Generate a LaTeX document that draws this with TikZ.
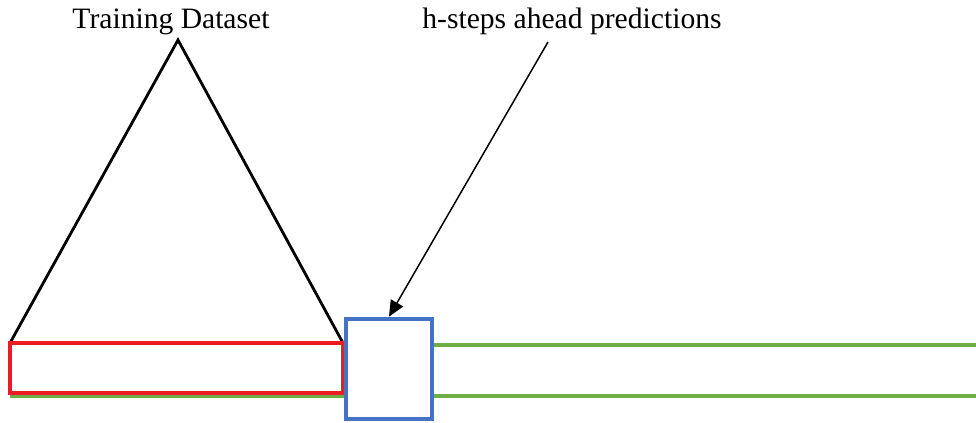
\documentclass[tikz,border=0pt]{standalone}
\usepackage{fontspec}
\setmainfont{Liberation Serif}
\usetikzlibrary{arrows.meta}
\definecolor{cred}{RGB}{237,28,36}
\definecolor{cblue}{RGB}{68,114,196}
\definecolor{cgreen}{RGB}{112,173,71}
\begin{document}
\begin{tikzpicture}[x=0.5pt,y=-0.5pt,
  lbl/.style={font=\fontsize{14.8pt}{17pt}\selectfont, inner sep=0pt, anchor=base},
  tri/.style={draw=black, line width=1.4pt, line join=miter},
  greenline/.style={draw=cgreen, line width=1.6pt},
  trainbox/.style={draw=cred, line width=1.7pt},
  predbox/.style={draw=cblue, line width=2.3pt, fill=white},
  pointer/.style={draw=black, line width=0.75pt, -{Triangle[length=8pt,width=7pt]}}]
\useasboundingbox (0,0) rectangle (976,423);
% green series lines
\coordinate (gtl) at (10,345);
\coordinate (gtr) at (976,345);
\coordinate (gbl) at (10,396);
\coordinate (gbr) at (976,396);
\draw[greenline] (gtl) -- (gtr);
\draw[greenline] (gbl) -- (gbr);
% triangle
\coordinate (apex) at (178,40);
\coordinate (bl) at (10,343);
\coordinate (br) at (343,343);
\draw[tri] (bl) -- (apex) -- (br);
% training box
\draw[trainbox, fill=white] (10,343) rectangle (343,393);
% prediction box
\node[predbox, minimum width=43pt, minimum height=50pt, inner sep=0pt] (box) at (389,369) {};
% labels
\node[lbl] (train) at (171,28) {Training Dataset};
\node[lbl] (pred) at (572,28) {h-steps ahead predictions};
\coordinate (astart) at (548,42);
\draw[pointer] (astart) -- (box.north);
\end{tikzpicture}
\end{document}
